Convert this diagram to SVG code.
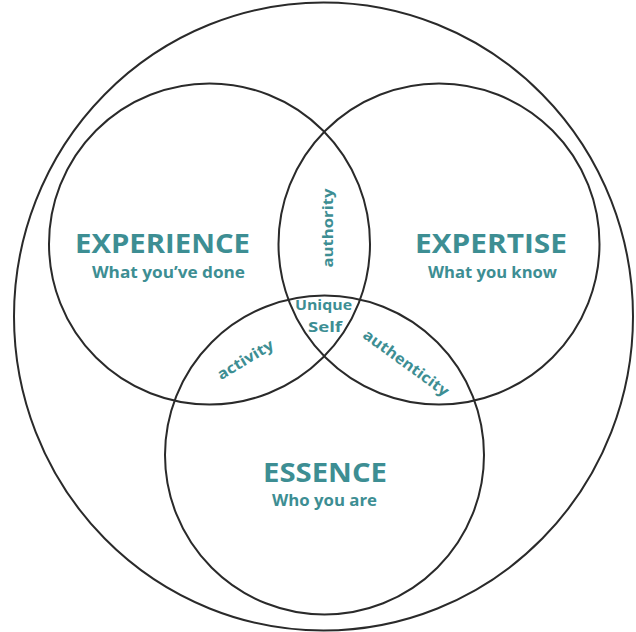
<svg xmlns="http://www.w3.org/2000/svg" width="636" height="632" viewBox="0 0 636 632">
  <style>
    .ring { fill: none; stroke: #2a2a2a; stroke-width: 2; }
    .title { font-family: "Open Sans", "Noto Sans", sans-serif; font-weight: 700; fill: #3d8e93; text-anchor: middle; font-size: 26.5px; }
    .sub { font-family: "Open Sans", "Noto Sans", sans-serif; font-weight: 700; fill: #3d8e93; text-anchor: middle; font-size: 16px; }
    .zone { font-family: "Open Sans", "Noto Sans", sans-serif; font-weight: 700; fill: #3d8e93; text-anchor: middle; font-size: 15px; }
  </style>
  <rect width="636" height="632" fill="#ffffff"/>

  <g id="whole-self">
    <ellipse class="ring" cx="323.5" cy="316.5" rx="309.5" ry="314"/>
  </g>

  <g id="experience">
    <circle class="ring" cx="209.5" cy="244" r="160.5"/>
    <text class="title" x="162.5" y="253" textLength="175" lengthAdjust="spacingAndGlyphs">EXPERIENCE</text>
    <text class="sub" x="168.5" y="278" textLength="153" lengthAdjust="spacingAndGlyphs">What you’ve done</text>
  </g>

  <g id="expertise">
    <circle class="ring" cx="439" cy="244" r="160.5"/>
    <text class="title" x="491" y="253" textLength="152" lengthAdjust="spacingAndGlyphs">EXPERTISE</text>
    <text class="sub" x="492.5" y="278" textLength="129" lengthAdjust="spacingAndGlyphs">What you know</text>
  </g>

  <g id="essence">
    <circle class="ring" cx="324.5" cy="455" r="159.5"/>
    <text class="title" x="325" y="482" textLength="124" lengthAdjust="spacingAndGlyphs">ESSENCE</text>
    <text class="sub" x="324.5" y="506" textLength="105" lengthAdjust="spacingAndGlyphs">Who you are</text>
  </g>

  <g id="overlaps">
    <text class="zone" transform="translate(333,228) rotate(-90)" textLength="79" lengthAdjust="spacingAndGlyphs">authority</text>
    <text class="zone" transform="translate(248,364) rotate(-31)" textLength="63" lengthAdjust="spacingAndGlyphs">activity</text>
    <text class="zone" transform="translate(403,367) rotate(36)" textLength="102" lengthAdjust="spacingAndGlyphs">authenticity</text>
    <text class="zone" x="323.5" y="310" textLength="57" lengthAdjust="spacingAndGlyphs">Unique</text>
    <text class="zone" x="325" y="332" textLength="34" lengthAdjust="spacingAndGlyphs">Self</text>
  </g>
</svg>
